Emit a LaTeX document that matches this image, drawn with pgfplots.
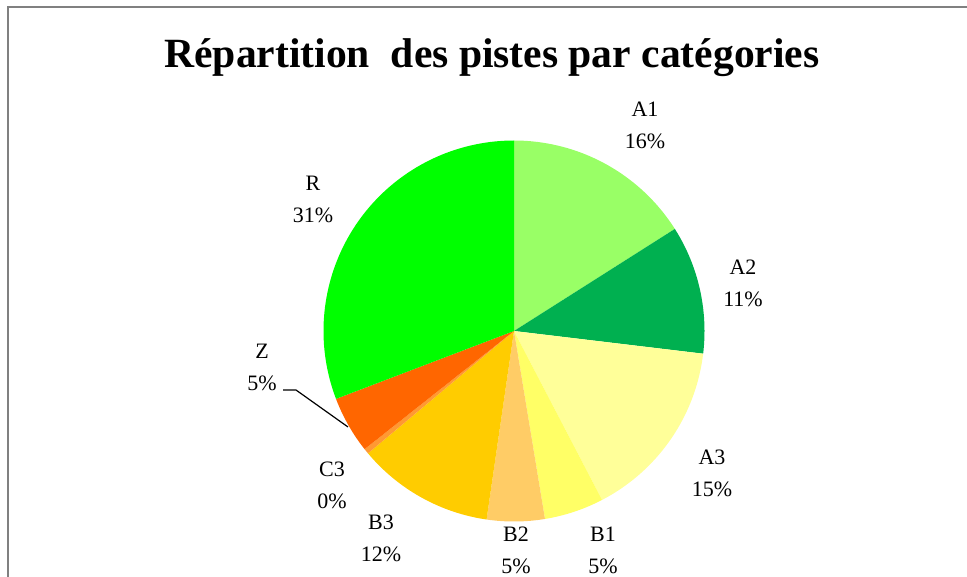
\documentclass[border=0pt]{standalone}
\usepackage{fontspec}
\setmainfont{Liberation Serif}
\usepackage{pgfplots}
\pgfplotsset{compat=1.18}

\definecolor{cA1}{HTML}{99FF66}
\definecolor{cA2}{HTML}{00B050}
\definecolor{cA3}{HTML}{FFFF99}
\definecolor{cB1}{HTML}{FFFF66}
\definecolor{cB2}{HTML}{FFCC66}
\definecolor{cB3}{HTML}{FFCC00}
\definecolor{cC3}{HTML}{FF9933}
\definecolor{cZ}{HTML}{FF6600}
\definecolor{cR}{HTML}{00FF00}

\tikzset{
  wedge/.style={draw=none, fill=#1},
  lbl/.style={font=\fontsize{16.5}{24}\selectfont, align=center},
}

% shares (%): A1 16.0, A2 10.9, A3 15.45, B1 5.05, B2 4.9, B3 11.6, C3 0.45, Z 4.85, R 30.8
% wedges start at the top and run clockwise; angle = 90 - 3.6*cumulative share
\begin{document}
\begin{tikzpicture}
\begin{axis}[
  width=725.25pt, height=432.75pt, scale only axis,
  xmin=0, xmax=967, ymin=0, ymax=577, y dir=reverse,
  axis lines=none, clip=true,
  samples=80,
]
\draw[gray, line width=1.5pt] (axis cs:8,577) -- (axis cs:8,7) -- (axis cs:967,7);

\addplot[wedge=cA1, domain={90-3.6*16.0}:{90-3.6*0}]     ({514+190.5*cos(x)},{331-190.5*sin(x)}) -- (axis cs:514,331) -- cycle;
\addplot[wedge=cA2, domain={90-3.6*26.9}:{90-3.6*16.0}]  ({514+190.5*cos(x)},{331-190.5*sin(x)}) -- (axis cs:514,331) -- cycle;
\addplot[wedge=cA3, domain={90-3.6*42.35}:{90-3.6*26.9}] ({514+190.5*cos(x)},{331-190.5*sin(x)}) -- (axis cs:514,331) -- cycle;
\addplot[wedge=cB1, domain={90-3.6*47.4}:{90-3.6*42.35}] ({514+190.5*cos(x)},{331-190.5*sin(x)}) -- (axis cs:514,331) -- cycle;
\addplot[wedge=cB2, domain={90-3.6*52.3}:{90-3.6*47.4}]  ({514+190.5*cos(x)},{331-190.5*sin(x)}) -- (axis cs:514,331) -- cycle;
\addplot[wedge=cB3, domain={90-3.6*63.9}:{90-3.6*52.3}]  ({514+190.5*cos(x)},{331-190.5*sin(x)}) -- (axis cs:514,331) -- cycle;
\addplot[wedge=cC3, domain={90-3.6*64.35}:{90-3.6*63.9}] ({514+190.5*cos(x)},{331-190.5*sin(x)}) -- (axis cs:514,331) -- cycle;
\addplot[wedge=cZ,  domain={90-3.6*69.2}:{90-3.6*64.35}] ({514+190.5*cos(x)},{331-190.5*sin(x)}) -- (axis cs:514,331) -- cycle;
\addplot[wedge=cR,  domain={90-3.6*100}:{90-3.6*69.2}]   ({514+190.5*cos(x)},{331-190.5*sin(x)}) -- (axis cs:514,331) -- cycle;

% leader line of Z
\draw[black, line width=0.9pt] (axis cs:283,390) -- (axis cs:296,390) -- (axis cs:348,427);

\node[font=\fontsize{31.2}{36}\selectfont\bfseries] at (axis cs:492,58) {Répartition\ \ des pistes par catégories};

\node[lbl] at (axis cs:645,125) {A1\\16\%};
\node[lbl] at (axis cs:743,283) {A2\\11\%};
\node[lbl] at (axis cs:712,473) {A3\\15\%};
\node[lbl] at (axis cs:603,550) {B1\\5\%};
\node[lbl] at (axis cs:516,550) {B2\\5\%};
\node[lbl] at (axis cs:381,538) {B3\\12\%};
\node[lbl] at (axis cs:332,485) {C3\\0\%};
\node[lbl] at (axis cs:262,367) {Z\\5\%};
\node[lbl] at (axis cs:313,199) {R\\31\%};
\end{axis}
\pgfresetboundingbox
\path[use as bounding box] (current axis.south west) rectangle (current axis.north east);
\end{tikzpicture}
\end{document}
